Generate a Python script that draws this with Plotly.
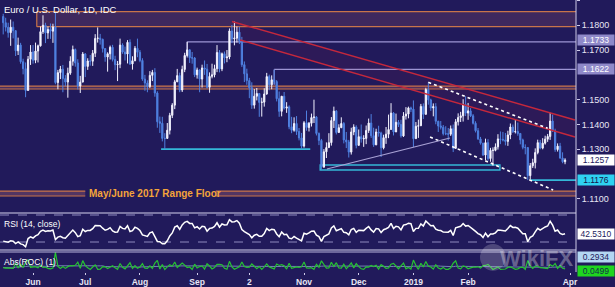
import numpy as np
import pandas as pd
import plotly.graph_objects as go

# ---------------- data (EUR/USD daily) ----------------
dates = pd.bdate_range("2018-05-16", "2019-03-28")
first_open = 1.1835

may_c = [1.1810, 1.1792, 1.1770, 1.1792, 1.1778, 1.1697, 1.1720, 1.1653, 1.1625, 1.1537, 1.1663, 1.1692]
may_h = [1.1846, 1.1830, 1.1810, 1.1823, 1.1815, 1.1780, 1.1750, 1.1729, 1.1665, 1.1650, 1.1676, 1.1720]
may_l = [1.1763, 1.1775, 1.1750, 1.1717, 1.1747, 1.1676, 1.1680, 1.1645, 1.1602, 1.1510, 1.1538, 1.1640]

jun_c = [1.1659, 1.1696, 1.1717, 1.1774, 1.1800, 1.1769, 1.1783, 1.1776, 1.1793, 1.1569, 1.1609, 1.1623, 1.1585, 1.1571, 1.1607, 1.1655, 1.1702, 1.1648, 1.1555, 1.1571, 1.1684]
jun_h = [1.1720, 1.1730, 1.1722, 1.1795, 1.1840, 1.1810, 1.1795, 1.1807, 1.1806, 1.1852, 1.1620, 1.1636, 1.1640, 1.1599, 1.1629, 1.1675, 1.1718, 1.1706, 1.1663, 1.1596, 1.1692]
jun_l = [1.1645, 1.1647, 1.1650, 1.1714, 1.1765, 1.1728, 1.1745, 1.1745, 1.1729, 1.1562, 1.1542, 1.1583, 1.1530, 1.1554, 1.1508, 1.1600, 1.1637, 1.1633, 1.1541, 1.1527, 1.1570]

jul_c = [1.1634, 1.1656, 1.1655, 1.1687, 1.1747, 1.1748, 1.1743, 1.1706, 1.1672, 1.1685, 1.1711, 1.1662, 1.1641, 1.1643, 1.1720, 1.1692, 1.1684, 1.1731, 1.1644, 1.1657, 1.1707, 1.1691]
jul_h = [1.1688, 1.1667, 1.1680, 1.1700, 1.1764, 1.1791, 1.1765, 1.1746, 1.1707, 1.1691, 1.1718, 1.1721, 1.1677, 1.1656, 1.1746, 1.1727, 1.1714, 1.1740, 1.1743, 1.1675, 1.1716, 1.1746]
jul_l = [1.1591, 1.1620, 1.1637, 1.1636, 1.1672, 1.1730, 1.1722, 1.1690, 1.1653, 1.1613, 1.1662, 1.1654, 1.1619, 1.1575, 1.1627, 1.1685, 1.1658, 1.1646, 1.1640, 1.1621, 1.1655, 1.1671]

aug_c = [1.1658, 1.1583, 1.1567, 1.1553, 1.1598, 1.1610, 1.1527, 1.1411, 1.1405, 1.1344, 1.1344, 1.1377, 1.1437, 1.1478, 1.1572, 1.1597, 1.1539, 1.1622, 1.1678, 1.1701, 1.1669, 1.1668, 1.1600]
aug_h = [1.1700, 1.1667, 1.1600, 1.1578, 1.1615, 1.1620, 1.1627, 1.1534, 1.1432, 1.1431, 1.1365, 1.1406, 1.1447, 1.1486, 1.1580, 1.1624, 1.1609, 1.1637, 1.1689, 1.1733, 1.1702, 1.1692, 1.1672]
aug_l = [1.1651, 1.1576, 1.1536, 1.1530, 1.1547, 1.1575, 1.1512, 1.1387, 1.1366, 1.1332, 1.1301, 1.1346, 1.1360, 1.1426, 1.1462, 1.1571, 1.1530, 1.1531, 1.1611, 1.1670, 1.1648, 1.1645, 1.1591]

sep_c = [1.1620, 1.1583, 1.1628, 1.1623, 1.1550, 1.1594, 1.1600, 1.1625, 1.1690, 1.1624, 1.1685, 1.1669, 1.1672, 1.1777, 1.1745, 1.1748, 1.1772, 1.1738, 1.1641, 1.1604]
sep_h = [1.1629, 1.1622, 1.1641, 1.1658, 1.1644, 1.1610, 1.1645, 1.1641, 1.1720, 1.1700, 1.1690, 1.1694, 1.1700, 1.1787, 1.1801, 1.1815, 1.1795, 1.1794, 1.1753, 1.1654]
sep_l = [1.1585, 1.1530, 1.1549, 1.1600, 1.1545, 1.1528, 1.1586, 1.1590, 1.1611, 1.1610, 1.1615, 1.1646, 1.1651, 1.1663, 1.1728, 1.1719, 1.1730, 1.1724, 1.1632, 1.1571]

oct_c = [1.1577, 1.1548, 1.1478, 1.1514, 1.1525, 1.1489, 1.1490, 1.1523, 1.1593, 1.1560, 1.1580, 1.1573, 1.1504, 1.1453, 1.1514, 1.1466, 1.1471, 1.1391, 1.1377, 1.1404, 1.1372, 1.1346, 1.1313]
oct_h = [1.1625, 1.1588, 1.1570, 1.1543, 1.1547, 1.1525, 1.1508, 1.1546, 1.1608, 1.1601, 1.1598, 1.1621, 1.1579, 1.1533, 1.1515, 1.1531, 1.1490, 1.1477, 1.1431, 1.1429, 1.1434, 1.1386, 1.1366]
oct_l = [1.1560, 1.1506, 1.1463, 1.1464, 1.1497, 1.1431, 1.1432, 1.1472, 1.1520, 1.1538, 1.1542, 1.1563, 1.1493, 1.1431, 1.1433, 1.1460, 1.1447, 1.1381, 1.1365, 1.1371, 1.1358, 1.1336, 1.1302]

nov_c = [1.1407, 1.1388, 1.1405, 1.1428, 1.1430, 1.1364, 1.1336, 1.1228, 1.1290, 1.1307, 1.1327, 1.1416, 1.1454, 1.1368, 1.1387, 1.1404, 1.1338, 1.1330, 1.1289, 1.1370, 1.1390, 1.1316]
nov_h = [1.1414, 1.1456, 1.1410, 1.1444, 1.1500, 1.1434, 1.1368, 1.1342, 1.1301, 1.1328, 1.1365, 1.1430, 1.1472, 1.1458, 1.1401, 1.1429, 1.1410, 1.1370, 1.1338, 1.1387, 1.1401, 1.1397]
nov_l = [1.1307, 1.1375, 1.1372, 1.1392, 1.1406, 1.1356, 1.1317, 1.1216, 1.1229, 1.1265, 1.1309, 1.1315, 1.1386, 1.1360, 1.1367, 1.1390, 1.1324, 1.1305, 1.1267, 1.1279, 1.1357, 1.1304]

dec_c = [1.1351, 1.1342, 1.1344, 1.1376, 1.1406, 1.1355, 1.1318, 1.1370, 1.1366, 1.1306, 1.1347, 1.1361, 1.1380, 1.1446, 1.1370, 1.1409, 1.1400, 1.1354, 1.1434, 1.1442, 1.1467]
dec_h = [1.1380, 1.1400, 1.1357, 1.1396, 1.1424, 1.1442, 1.1387, 1.1383, 1.1395, 1.1371, 1.1359, 1.1390, 1.1440, 1.1486, 1.1450, 1.1444, 1.1418, 1.1419, 1.1450, 1.1470, 1.1472]
dec_l = [1.1315, 1.1327, 1.1310, 1.1321, 1.1366, 1.1346, 1.1310, 1.1317, 1.1351, 1.1269, 1.1300, 1.1322, 1.1345, 1.1380, 1.1356, 1.1371, 1.1390, 1.1347, 1.1350, 1.1420, 1.1425]

jan_c = [1.1462, 1.1343, 1.1393, 1.1395, 1.1473, 1.1441, 1.1541, 1.1499, 1.1467, 1.1472, 1.1413, 1.1394, 1.1389, 1.1363, 1.1363, 1.1361, 1.1383, 1.1304, 1.1411, 1.1428, 1.1435, 1.1480, 1.1446]
jan_h = [1.1472, 1.1497, 1.1410, 1.1420, 1.1483, 1.1485, 1.1548, 1.1570, 1.1504, 1.1485, 1.1486, 1.1415, 1.1414, 1.1398, 1.1393, 1.1386, 1.1396, 1.1400, 1.1422, 1.1445, 1.1451, 1.1502, 1.1514]
jan_l = [1.1450, 1.1309, 1.1345, 1.1346, 1.1395, 1.1422, 1.1440, 1.1480, 1.1455, 1.1433, 1.1401, 1.1370, 1.1380, 1.1356, 1.1357, 1.1336, 1.1354, 1.1289, 1.1302, 1.1396, 1.1410, 1.1412, 1.1434]

feb_c = [1.1455, 1.1435, 1.1405, 1.1375, 1.1342, 1.1325, 1.1277, 1.1327, 1.1263, 1.1296, 1.1296, 1.1310, 1.1342, 1.1340, 1.1338, 1.1332, 1.1358, 1.1390, 1.1371, 1.1372]
feb_h = [1.1487, 1.1466, 1.1442, 1.1413, 1.1386, 1.1350, 1.1324, 1.1343, 1.1341, 1.1306, 1.1308, 1.1324, 1.1361, 1.1372, 1.1370, 1.1366, 1.1375, 1.1404, 1.1400, 1.1420]
feb_l = [1.1419, 1.1430, 1.1400, 1.1368, 1.1338, 1.1319, 1.1274, 1.1257, 1.1254, 1.1250, 1.1234, 1.1292, 1.1299, 1.1321, 1.1332, 1.1316, 1.1314, 1.1341, 1.1366, 1.1364]

mar_c = [1.1364, 1.1338, 1.1308, 1.1307, 1.1194, 1.1234, 1.1246, 1.1287, 1.1327, 1.1305, 1.1325, 1.1341, 1.1352, 1.1414, 1.1374, 1.1299, 1.1313, 1.1265, 1.1250, 1.1257]
mar_h = [1.1408, 1.1356, 1.1343, 1.1320, 1.1309, 1.1245, 1.1262, 1.1304, 1.1339, 1.1338, 1.1345, 1.1355, 1.1362, 1.1448, 1.1440, 1.1383, 1.1324, 1.1326, 1.1288, 1.1264]
mar_l = [1.1355, 1.1320, 1.1300, 1.1280, 1.1176, 1.1180, 1.1225, 1.1223, 1.1280, 1.1300, 1.1300, 1.1319, 1.1330, 1.1338, 1.1370, 1.1290, 1.1291, 1.1262, 1.1244, 1.1240]

closes = may_c + jun_c + jul_c + aug_c + sep_c + oct_c + nov_c + dec_c + jan_c + feb_c + mar_c
highs = may_h + jun_h + jul_h + aug_h + sep_h + oct_h + nov_h + dec_h + jan_h + feb_h + mar_h
lows = may_l + jun_l + jul_l + aug_l + sep_l + oct_l + nov_l + dec_l + jan_l + feb_l + mar_l
opens = [first_open] + closes[:-1]

# RSI seed (Wilder averages at the chart start, estimated from the panel)
rsi_seed_gain = 0.0020
rsi_seed_loss = 0.0042

# tick labels
tick_dates = ["2018-06-01", "2018-07-02", "2018-08-01", "2018-09-03", "2018-10-02",
              "2018-11-01", "2018-12-03", "2019-01-02", "2019-02-01", "2019-04-01"]
tick_text = ["Jun", "Jul", "Aug", "Sep", "2", "Nov", "Dec", "2019", "Feb", "Apr"]
price_ticks = [1.11, 1.13, 1.14, 1.15, 1.17, 1.18, 1.19]

# levels / drawings (price levels, start/end day indices)
resist_zone = (1.1794, 1.1855)
mid_band = (1.1543, 1.1555)
floor_band = (1.1112, 1.1132)
lvl_1733 = 1.1733
lvl_1622 = 1.1622
lvl_aug_low = 1.1301
nov_box = (1.1217, 1.1237)
lvl_1176 = 1.1176
last_price = 1.1257
rsi_last_label = "42.5310"
roc_labels = ("0.2934", "0.0499")

# ---------------- derived ----------------
n = len(closes)
x = np.arange(n)
all_days = pd.bdate_range("2018-05-16", "2019-04-05")
tick_pos = [all_days.get_loc(pd.Timestamp(d)) for d in tick_dates]
XMIN, XMAX = -1.29, 230.4

c = np.array(closes)
prev = np.array([first_open] + closes[:-1])
chg = c - prev
ag, al = rsi_seed_gain, rsi_seed_loss
rsi = []
for d in chg:
    ag = (ag * 13 + max(d, 0)) / 14
    al = (al * 13 + max(-d, 0)) / 14
    rsi.append(100 - 100 / (1 + ag / al))
abs_roc = np.abs(chg) / prev * 100
roc_ma = pd.Series(abs_roc).rolling(20, min_periods=1).mean()

hi = np.maximum.reduce([np.array(highs), c, np.array(opens)])
lo = np.minimum.reduce([np.array(lows), c, np.array(opens)])

BG = "#211a5b"
TXT = "#e8e6f4"
ORANGE = "#c8744a"
CYAN = "#34b8d8"
LAV = "#9c95d4"
RED = "#c4283c"
FONT = "Liberation Sans"

fig = go.Figure()
fig.add_trace(go.Candlestick(
    x=x, open=opens, high=hi, low=lo, close=closes,
    increasing=dict(line=dict(color="#f2f2ff", width=1), fillcolor="#ffffff"),
    decreasing=dict(line=dict(color="#4f80e0", width=1), fillcolor="#4f80e0"),
    whiskerwidth=0, showlegend=False, hoverinfo="skip", xaxis="x", yaxis="y"))
fig.add_trace(go.Scatter(x=x, y=rsi, mode="lines", line=dict(color="#ffffff", width=1.5),
                         showlegend=False, hoverinfo="skip", xaxis="x", yaxis="y2"))
fig.add_trace(go.Scatter(x=x, y=roc_ma, mode="lines", line=dict(color="#a9c8ee", width=1),
                         opacity=0.6, showlegend=False, hoverinfo="skip", xaxis="x", yaxis="y3"))
fig.add_trace(go.Scatter(x=x, y=abs_roc, mode="lines", line=dict(color="#26c233", width=1.2),
                         showlegend=False, hoverinfo="skip", xaxis="x", yaxis="y3"))

shapes = []
def hline(x0, x1, yv, color, width=1, dash="solid", layer="below"):
    shapes.append(dict(type="line", xref="x", yref="y", x0=x0, x1=x1, y0=yv, y1=yv,
                       line=dict(color=color, width=width, dash=dash), layer=layer))
def seg(x0, y0, x1, y1, color, width=1, dash="solid", layer="above"):
    shapes.append(dict(type="line", xref="x", yref="y", x0=x0, x1=x1, y0=y0, y1=y1,
                       line=dict(color=color, width=width, dash=dash), layer=layer))

# top resistance zone
shapes.append(dict(type="rect", xref="x", yref="y", x0=13.5, x1=XMAX, y0=resist_zone[0], y1=resist_zone[1],
                   fillcolor="rgba(150,85,105,0.25)", line=dict(width=0), layer="below"))
hline(13.5, XMAX, resist_zone[0], ORANGE, 1.2)
hline(13.5, XMAX, resist_zone[1], ORANGE, 1.2)
seg(13.5, resist_zone[0], 13.5, resist_zone[1], ORANGE, 1.2, layer="below")
# middle band
shapes.append(dict(type="rect", xref="x", yref="y", x0=XMIN, x1=XMAX, y0=mid_band[0], y1=mid_band[1],
                   fillcolor="rgba(150,85,105,0.35)", line=dict(width=0), layer="below"))
hline(XMIN, XMAX, mid_band[0], ORANGE, 1.2)
hline(XMIN, XMAX, mid_band[1], ORANGE, 1.2)
# range floor band (broken by the label)
for a, b in [(XMIN, 33.0), (85.5, XMAX)]:
    shapes.append(dict(type="rect", xref="x", yref="y", x0=a, x1=b, y0=floor_band[0], y1=floor_band[1],
                       fillcolor="rgba(160,95,110,0.40)", line=dict(width=0), layer="below"))
    hline(a, b, floor_band[0], ORANGE, 1.2)
    hline(a, b, floor_band[1], ORANGE, 1.2)
# lavender levels
hline(74, XMAX, lvl_1733, LAV, 1.2)
seg(74, lvl_1733, 74, 1.1702, LAV, 1.2, layer="below")
hline(109, XMAX, lvl_1622, LAV, 1.2)
seg(109, lvl_1622, 109, 1.1560, LAV, 1.2, layer="below")
# cyan supports
hline(63.5, 123.5, lvl_aug_low, CYAN, 1.6)
shapes.append(dict(type="rect", xref="x", yref="y", x0=127.5, x1=199.8, y0=nov_box[0], y1=nov_box[1],
                   line=dict(color=CYAN, width=1.4), layer="below"))
hline(211.9, XMAX, lvl_1176, CYAN, 1.6)
# red descending channel
up0, up1 = (92.0, 1.1815), (230.0, 1.14182)
lw0, lw1 = (95.3, 1.17405), (230.0, 1.13497)
shapes.append(dict(type="path", xref="x", yref="y",
                   path=f"M {up0[0]},{up0[1]} L {up1[0]},{up1[1]} L {lw1[0]},{lw1[1]} L {lw0[0]},{lw0[1]} Z",
                   fillcolor="rgba(190,40,70,0.08)", line=dict(width=0), layer="below"))
seg(up0[0], up0[1], up1[0], up1[1], RED, 1.4)
seg(lw0[0], lw0[1], lw1[0], lw1[1], RED, 1.4)
# white dotted wedge
seg(171.0, 1.1570, 219.0, 1.1385, "#ffffff", 1.6, "dot")
seg(171.7, 1.13497, 221.2, 1.11362, "#ffffff", 1.6, "dot")
# rising lavender line
seg(130.2, 1.12208, 179.7, 1.13457, "#aaa3d6", 1.2)

# panel separators (paper coords)
def ph(yp, color="#cfcbe9", width=1, dash="solid"):
    shapes.append(dict(type="line", xref="paper", yref="paper", x0=0, x1=1, y0=yp, y1=yp,
                       line=dict(color=color, width=width, dash=dash), layer="above"))
ph(1 - 213 / 272, "#d6d2ee", 1)
ph(1 - 250 / 272, "#d6d2ee", 1)
ph(1 - 252 / 272, "#b9b4dc", 1)
for lv in (70, 30):
    shapes.append(dict(type="line", xref="paper", yref="y2", x0=0, x1=1, y0=lv, y1=lv,
                       line=dict(color="#8f89bf", width=1, dash="dash"), layer="below"))
# right axis line
shapes.append(dict(type="line", xref="paper", yref="paper", x0=1, x1=1, y0=0, y1=1,
                   line=dict(color="#cfcbe9", width=1), layer="above"))
# watermark logo
shapes.append(dict(type="circle", xref="paper", yref="paper", x0=480 / 576, x1=506 / 576,
                   y0=0.005, y1=1 - 244 / 272, fillcolor="rgba(255,255,255,0.20)",
                   line=dict(width=0), layer="above"))

annotations = []
def box(yv, text, bg, fg, yref="y", yshift=0):
    annotations.append(dict(xref="paper", x=1, xanchor="left", xshift=1, yref=yref, y=yv, yshift=yshift,
                            text=text, showarrow=False, bgcolor=bg, borderpad=0, height=10,
                            font=dict(family=FONT, size=8.5, color=fg), width=36, align="center",
                            valign="middle"))
box(lvl_1733, "1.1733", "#8f89c9", "#ffffff", yshift=2)
box(lvl_1622, "1.1622", "#8f89c9", "#ffffff")
box(last_price, "1.1257", "#ffffff", "#231a5c")
box(lvl_1176, "1.1176", "#2fd2f0", "#15144a")
box(float(rsi_last_label), rsi_last_label, "#ffffff", "#231a5c", yref="y2")
box(float(roc_labels[0]), roc_labels[0], "#b3d6f2", "#231a5c", yref="y3", yshift=10)
box(float(roc_labels[1]), roc_labels[1], "#1fd51f", "#12304a", yref="y3", yshift=-2)

annotations.append(dict(xref="paper", yref="paper", x=0.003, y=1, xanchor="left", yanchor="top", yshift=-2,
                        text="Euro / U.S. Dollar, 1D, IDC", showarrow=False,
                        font=dict(family=FONT, size=9.5, color="#ffffff")))
annotations.append(dict(xref="x", yref="y", x=33.6, y=sum(floor_band) / 2, xanchor="left", yanchor="middle",
                        text="<b>May/June 2017 Range Floor</b>", showarrow=False,
                        font=dict(family=FONT, size=10, color="#f4a43a")))
annotations.append(dict(xref="paper", yref="paper", x=0.003, y=1 - 224 / 272, xanchor="left", yanchor="middle",
                        text="RSI (14, close)", showarrow=False, font=dict(family=FONT, size=8.5, color="#ffffff")))
annotations.append(dict(xref="paper", yref="paper", x=0.003, y=1 - 262 / 272, xanchor="left", yanchor="middle",
                        text="Abs(ROC) (1)", showarrow=False, font=dict(family=FONT, size=8.5, color="#ffffff")))
annotations.append(dict(xref="paper", yref="paper", x=1, xshift=-1, y=1 - 258 / 272, xanchor="right",
                        yanchor="middle", text="<b>WikiFX</b>", showarrow=False,
                        font=dict(family=FONT, size=22, color="rgba(255,255,255,0.33)")))

fig.update_layout(
    width=615, height=287, margin=dict(l=0, r=39, t=0, b=15),
    paper_bgcolor=BG, plot_bgcolor=BG,
    shapes=shapes, annotations=annotations, showlegend=False,
    xaxis=dict(range=[XMIN, XMAX], anchor="y3", tickvals=tick_pos,
               ticktext=[f"<b>{t}</b>" for t in tick_text], tickfont=dict(family=FONT, size=8.5, color=TXT),
               showgrid=False, zeroline=False, showline=False, ticks="outside", ticklen=2,
               tickcolor="#cfcbe9", rangeslider=dict(visible=False)),
    yaxis=dict(domain=[1 - 211 / 272, 1], range=[1.10516, 1.19016], side="right", anchor="x",
               tickvals=price_ticks, ticktext=[f"{v:.4f}" for v in price_ticks],
               tickfont=dict(family=FONT, size=9, color=TXT), showgrid=False, zeroline=False,
               ticks="outside", ticklen=3, tickcolor="#cfcbe9"),
    yaxis2=dict(domain=[1 - 250 / 272, 1 - 213 / 272], range=[18.15, 72.96], side="right", anchor="x",
                showticklabels=False, showgrid=False, zeroline=False, ticks=""),
    yaxis3=dict(domain=[0, 1 - 252 / 272], range=[-0.28, 1.93], side="right", anchor="x",
                showticklabels=False, showgrid=False, zeroline=False, ticks=""),
)

fig.write_html("out.html")
